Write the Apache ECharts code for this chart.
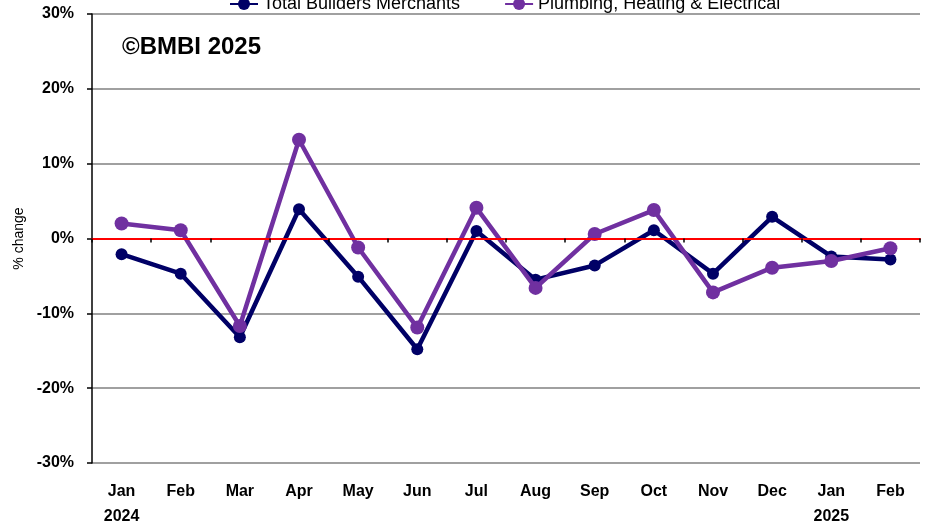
<!DOCTYPE html>
<html><head><meta charset="utf-8">
<script src="https://cdn.jsdelivr.net/npm/echarts@6/dist/echarts.min.js"></script>
<style>html,body{margin:0;padding:0;background:#fff}#c{width:930px;height:525px}</style>
</head><body><div id="c"></div>
<script>
const categories = ['Jan\n2024','Feb','Mar','Apr','May','Jun','Jul','Aug','Sep','Oct','Nov','Dec','Jan\n2025','Feb'];
const totalBuilders = [-2.1,-4.7,-13.2,3.9,-5.1,-14.8,1.0,-5.5,-3.6,1.1,-4.7,2.9,-2.4,-2.8];
const plumbing = [2.0,1.1,-11.7,13.2,-1.2,-11.9,4.1,-6.6,0.6,3.8,-7.2,-3.9,-3.0,-1.3];
const yTicks = {min:-30,max:30,interval:10};

const FONT = 'Liberation Sans, Arial, sans-serif';
const chart = echarts.init(document.getElementById('c'));
chart.setOption({
  animation:false,
  backgroundColor:'#fff',
  textStyle:{fontFamily:FONT},
  graphic:[{type:'text',left:122,top:35,style:{text:'©BMBI 2025',font:'bold 24px '+FONT,fill:'#000'}}],
  legend:{top:-10,left:224,itemGap:44,itemWidth:28,itemHeight:15,
    textStyle:{fontSize:18,color:'#000',fontFamily:FONT},
    data:['Total Builders Merchants','Plumbing, Heating & Electrical']},
  grid:{left:92,right:10,top:14,bottom:62,containLabel:false,outerBoundsMode:'none'},
  xAxis:[{type:'category',data:categories,boundaryGap:true,position:'bottom',
      axisLine:{show:false,onZero:false},axisTick:{show:false},
      axisLabel:{fontWeight:'bold',fontSize:16,color:'#000',lineHeight:25,margin:16,interval:0}},
    {type:'category',data:categories,boundaryGap:true,position:'bottom',z:10,
      axisLine:{show:true,onZero:true,lineStyle:{color:'#ff0000',width:2}},
      axisTick:{show:true,length:4,lineStyle:{color:'#000',width:1.5}},
      axisLabel:{show:false}}],
  yAxis:{type:'value',min:yTicks.min,max:yTicks.max,interval:yTicks.interval,
    name:'% change',nameLocation:'middle',nameGap:62,nameRotate:90,
    nameTextStyle:{fontSize:14,color:'#000'},
    axisLine:{show:true,lineStyle:{color:'#000',width:1.5}},
    axisTick:{show:true,length:5,lineStyle:{color:'#000',width:1.5}},
    axisLabel:{formatter:'{value}%',fontWeight:'bold',fontSize:16,color:'#000',margin:18},
    splitLine:{show:true,lineStyle:{color:'#808080',width:1.5}}},
  series:[
    {name:'Total Builders Merchants',type:'line',data:totalBuilders,xAxisIndex:0,
      symbol:'circle',symbolSize:12,lineStyle:{width:4.5,color:'#000066'},
      itemStyle:{color:'#000066'},z:3},
    {name:'Plumbing, Heating & Electrical',type:'line',data:plumbing,xAxisIndex:0,
      symbol:'circle',symbolSize:14,lineStyle:{width:4.5,color:'#7030a0'},
      itemStyle:{color:'#7030a0'},z:4}
  ]
});
</script></body></html>
